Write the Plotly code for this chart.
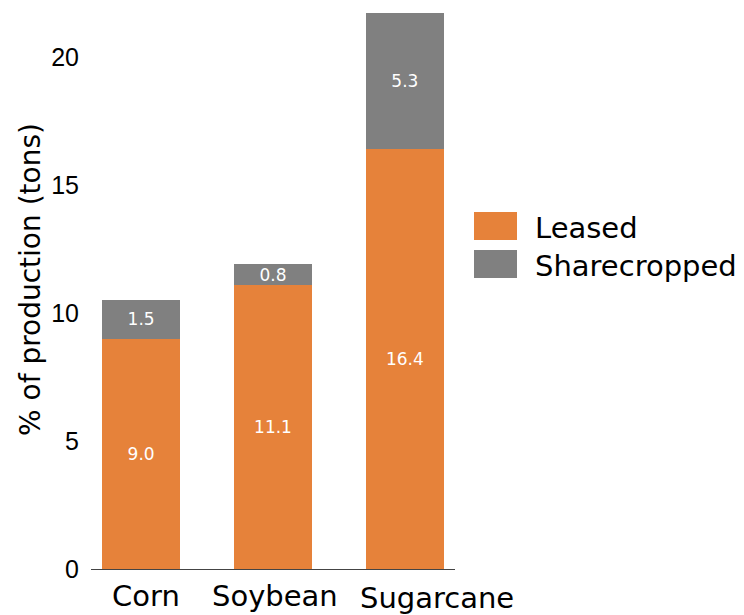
import plotly.graph_objects as go

categories = ["Corn", "Soybean", "Sugarcane"]
leased = [9.0, 11.1, 16.4]
sharecropped = [1.5, 0.8, 5.3]
series_names = ["Leased", "Sharecropped"]
colors = ["#E6823A", "#808080"]
y_ticks = [0, 5, 10, 15, 20]
y_title = "% of production (tons)"

FONT = "DejaVu Sans"
TICKFONT = "Liberation Sans"

# plot area in page pixels (page body has 8px margin)
PX0, PX1, PY0, PY1 = 91, 455, 8, 569
label_xshift = [5, 2, 32]
label_yshift = [-27, -27, -29]


def px_x(X):
    return (X - PX0) / (PX1 - PX0)


def px_y(Y):
    return (PY1 - Y) / (PY1 - PY0)


fig = go.Figure()
for name, vals, col in zip(series_names, [leased, sharecropped], colors):
    fig.add_trace(go.Bar(
        x=categories, y=vals, name=name, marker=dict(color=col, line=dict(width=0)),
        text=[f"{v:.1f}" for v in vals], textposition="inside",
        insidetextanchor="middle", constraintext="none",
        textfont=dict(color="white", size=17, family=FONT),
        width=0.59, showlegend=False,
    ))

# category labels placed at each category on the x axis
for cat, xs, ys in zip(categories, label_xshift, label_yshift):
    fig.add_annotation(xref="x", yref="paper", x=cat, y=0, text=cat,
                       showarrow=False, xanchor="center", yanchor="middle",
                       xshift=xs, yshift=ys,
                       font=dict(size=29, color="black", family=FONT))

# y-axis title
fig.add_annotation(xref="paper", yref="paper", x=px_x(30), y=px_y(280),
                   text=y_title, textangle=-90, showarrow=False,
                   xanchor="center", yanchor="middle",
                   font=dict(size=28, color="black", family=FONT))

# manual legend (large swatches)
for i, (name, col) in enumerate(zip(series_names, colors)):
    top = 212 + 38 * i
    bot = top + 28
    fig.add_shape(type="rect", xref="paper", yref="paper",
                  x0=px_x(474), x1=px_x(517), y0=px_y(bot), y1=px_y(top),
                  fillcolor=col, line=dict(width=0))
    fig.add_annotation(xref="paper", yref="paper", x=px_x(533),
                       y=px_y((top + bot) / 2 + 2), text=name, showarrow=False,
                       xanchor="left", yanchor="middle",
                       font=dict(size=29, color="black", family=FONT))

fig.update_layout(
    width=736, height=607,
    margin=dict(l=83, r=289, t=0, b=46, pad=0),
    plot_bgcolor="white", paper_bgcolor="white",
    barmode="stack", showlegend=False,
    font=dict(family=FONT, color="black"),
    xaxis=dict(range=[-0.38, 2.38], showline=True, linecolor="#444444",
               linewidth=1, ticks="", showticklabels=False, automargin=False,
               showgrid=False),
    yaxis=dict(range=[0, (PY1 - PY0) / 25.6], tickvals=y_ticks, showgrid=False,
               zeroline=False, showline=False, ticks="", automargin=False,
               ticklabelstandoff=11,
               tickfont=dict(size=25, color="black", family=TICKFONT)),
)

fig.write_html("out.html")
